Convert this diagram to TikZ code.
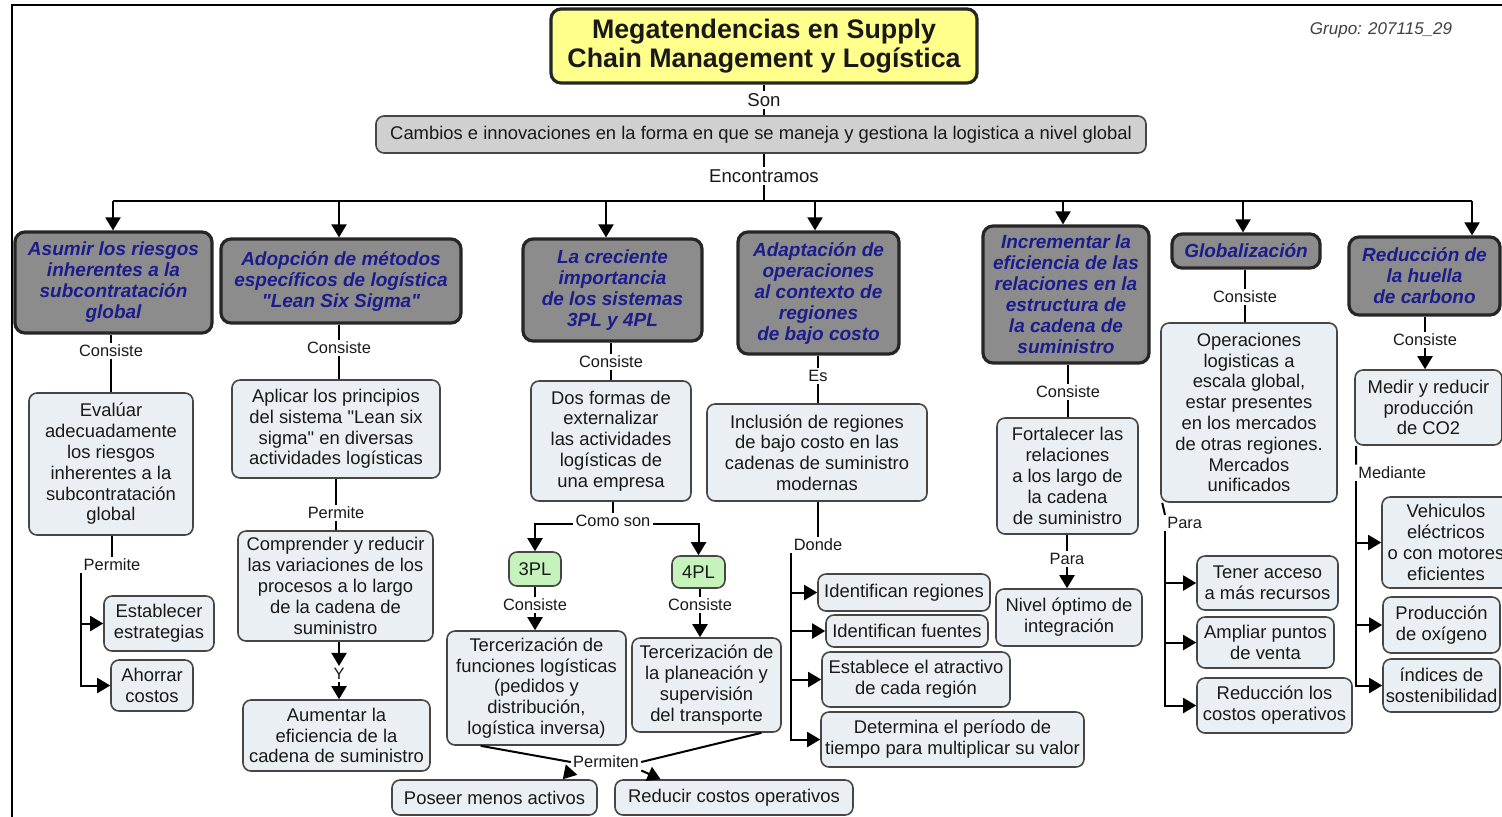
\documentclass[tikz,border=0pt]{standalone}
\usepackage{fontspec}
\setmainfont{Liberation Sans}[Ligatures=TeXOff]
\usetikzlibrary{arrows.meta,calc}

\definecolor{lightc}{RGB}{233,239,242}
\definecolor{headc}{RGB}{140,140,140}
\definecolor{titlec}{RGB}{255,255,140}
\definecolor{greyc}{RGB}{208,208,208}
\definecolor{greenc}{RGB}{198,242,188}
\definecolor{navyc}{RGB}{28,28,140}
\definecolor{inkc}{RGB}{25,25,25}
\definecolor{edgec}{RGB}{70,70,70}

\tikzset{
  sz/.style 2 args={minimum width=#1*0.5pt, minimum height=#2*0.5pt},
  concept/.style={draw=edgec, line width=0.8pt, fill=lightc, rounded corners=4pt,
    inner sep=0pt, align=center, text=inkc, font=\fontsize{9.2}{10.4}\selectfont},
  headbox/.style={draw=black!85, line width=1.6pt, fill=headc, rounded corners=5pt,
    inner sep=0pt, align=center, text=navyc,
    font=\fontsize{9.5}{10.5}\selectfont\bfseries\itshape},
  lbl/.style={inner sep=1pt, text=inkc, font=\fontsize{8.2}{9}\selectfont},
  toplbl/.style={lbl, font=\fontsize{9.3}{11}\selectfont},
  conn/.style={line width=1pt, draw=black},
  arr/.style={conn, -{Triangle[width=7.5pt,length=6.5pt]}},
}

\begin{document}
\begin{tikzpicture}[x=0.5pt,y=-0.5pt]
\useasboundingbox (0,0) rectangle (1502,816);
\fill[white] (0,0) rectangle (1502,816);

% outer frame
\draw[line width=1.2pt] (12,820) -- (12,5) -- (1510,5);

% title and root
\node[concept, sz={426}{74}, fill=titlec, draw=black!85, line width=1.6pt,
  rounded corners=5pt, font=\fontsize{13.4}{14.6}\selectfont\bfseries]
  (title) at (764,46) {Megatendencias en Supply\\Chain Management y Logística};
\node[lbl, font=\fontsize{8.5}{10}\selectfont\itshape, text=black!75]
  (grupo) at (1381,30) {Grupo: 207115\_29};
\node[toplbl] (son) at (764,100) {Son};
\node[concept, sz={770}{37}, fill=greyc] (cambios) at (761,134.5)
  {Cambios e innovaciones en la forma en que se maneja y gestiona la logistica a nivel global};
\node[toplbl] (encon) at (764,176) {Encontramos};
\draw[conn] (title.south -| son) -- (son) -- (son |- cambios.north);
\draw[conn] (cambios.south -| encon) -- (encon);

% distribution bar
\coordinate (hub) at (764,201);
\coordinate (b1) at (113,201);
\coordinate (b2) at (339,201);
\coordinate (b3) at (606,201);
\coordinate (b4) at (815,201);
\coordinate (b5) at (1063,201);
\coordinate (b6) at (1243,201);
\coordinate (b7) at (1472,201);
\draw[conn] (encon) -- (hub);
\draw[conn] (b1) -- (b7);

% main trends
\node[headbox, sz={197}{101}] (h1) at (113.5,282.5) {Asumir los riesgos\\inherentes a la\\subcontratación\\global};
\node[headbox, sz={240}{84}] (h2) at (341,281) {Adopción de métodos\\específicos de logística\\"Lean Six Sigma"};
\node[headbox, sz={179}{102}] (h3) at (612.5,290) {La creciente\\importancia\\de los sistemas\\3PL y 4PL};
\node[headbox, sz={161}{122}] (h4) at (818.5,293) {Adaptación de\\operaciones\\al contexto de\\regiones\\de bajo costo};
\node[headbox, sz={166}{137}] (h5) at (1066,294.5) {Incrementar la\\eficiencia de las\\relaciones en la\\estructura de\\la cadena de\\suministro};
\node[headbox, sz={148}{34}] (h6) at (1246,251) {Globalización};
\node[headbox, sz={151}{78}] (h7) at (1424.5,276) {Reducción de\\la huella\\de carbono};
\foreach \i in {1,...,7} \draw[arr] (b\i) -- (b\i |- h\i.north);

% column 1
\node[lbl] (c1) at (111,351) {Consiste};
\node[concept, sz={164}{142}] (eval) at (111,464) {Evalúar\\adecuadamente\\los riesgos\\inherentes a la\\subcontratación\\global};
\draw[conn] (h1.south -| c1) -- (c1) -- (c1 |- eval.north);
\node[lbl] (p1) at (112,565) {Permite};
\draw[conn] (eval.south -| p1) -- (p1);
\node[concept, sz={110}{55}] (estab) at (159,623.5) {Establecer\\estrategias};
\node[concept, sz={82}{51}] (ahorrar) at (152,685.5) {Ahorrar\\costos};
\draw[arr] (p1.south west) |- (ahorrar.west);
\draw[arr] (p1.south west |- estab.west) -- (estab.west);

% column 2
\node[lbl] (c2) at (339,348) {Consiste};
\node[concept, sz={208}{98}] (aplicar) at (336,429) {Aplicar los principios\\del sistema "Lean six\\sigma" en diversas\\actividades logísticas};
\draw[conn] (h2.south -| c2) -- (c2) -- (c2 |- aplicar.north);
\node[lbl] (p2) at (336,513) {Permite};
\node[concept, sz={195}{110}] (comp) at (335.5,586) {Comprender y reducir\\las variaciones de los\\procesos a lo largo\\de la cadena de\\suministro};
\draw[conn] (aplicar.south -| p2) -- (p2) -- (p2 |- comp.north);
\node[lbl] (y2) at (339,674) {Y};
\node[concept, sz={187}{71}] (aum) at (336.5,735.5) {Aumentar la\\eficiencia de la\\cadena de suministro};
\draw[arr] (comp.south -| y2) -- (y2);
\draw[arr] (y2) -- (y2 |- aum.north);

% column 3
\node[lbl] (c3) at (611,362) {Consiste};
\node[concept, sz={160}{120}] (dos) at (611,441) {Dos formas de\\externalizar\\las actividades\\logísticas de\\una empresa};
\draw[conn] (h3.south -| c3) -- (c3) -- (c3 |- dos.north);
\node[lbl] (como) at (613,521) {Como son};
\draw[conn] (dos.south -| como) -- (como);
\node[concept, fill=greenc, sz={52}{34}] (pl3) at (535,569) {3PL};
\node[concept, fill=greenc, sz={53}{32}] (pl4) at (698.5,572) {4PL};
\draw[arr] ([yshift=-1.5pt]como.west) -| (pl3.north);
\draw[arr] ([yshift=-1.5pt]como.east) -| (pl4.north);
\node[lbl] (c3a) at (535,605) {Consiste};
\node[lbl] (c3b) at (700,605) {Consiste};
\node[concept, sz={179}{114}] (t3) at (536.5,688) {Tercerización de\\funciones logísticas\\(pedidos y\\distribución,\\logística inversa)};
\node[concept, sz={149}{94}] (t4) at (706.5,685) {Tercerización de\\la planeación y\\supervisión\\del transporte};
\draw[conn] (pl3.south -| c3a) -- (c3a);
\draw[arr] (c3a) -- (c3a |- t3.north);
\draw[conn] (pl4.south -| c3b) -- (c3b);
\draw[arr] (c3b) -- (c3b |- t4.north);
\node[lbl] (perm) at (606,762) {Permiten};
\draw[conn] (t3.-134) -- (perm.west);
\draw[conn] (t4.-41) -- (perm.east);
\node[concept, sz={205}{35}] (poseer) at (494.5,797.5) {Poseer menos activos};
\node[concept, sz={238}{35}] (reducir) at (734,797.5) {Reducir costos operativos};
\draw[arr] (perm.south west) -- (poseer.15);
\draw[arr] (perm.south east) -- (reducir.166);

% column 4
\node[lbl] (es) at (818,376) {Es};
\node[concept, sz={220}{97}] (incl) at (817,452.5) {Inclusión de regiones\\de bajo costo en las\\cadenas de suministro\\modernas};
\draw[conn] (h4.south -| es) -- (es) -- (es |- incl.north);
\node[lbl] (donde) at (818,545) {Donde};
\draw[conn] (incl.south -| donde) -- (donde);
\node[concept, sz={172}{37}] (idreg) at (904,592.5) {Identifican regiones};
\node[concept, sz={162}{32}] (idfue) at (907,631) {Identifican fuentes};
\node[concept, sz={188}{55}] (atrac) at (916,679.5) {Establece el atractivo\\de cada región};
\node[concept, sz={263}{55}] (deter) at (952.5,739.5) {Determina el período de\\tiempo para multiplicar su valor};
\draw[arr] (donde.south west) |- (deter.west);
\foreach \n in {idreg,idfue,atrac} \draw[arr] (donde.south west |- \n.west) -- (\n.west);

% column 5
\node[lbl] (c5) at (1068,392) {Consiste};
\node[concept, sz={141}{116}] (fort) at (1067.5,476) {Fortalecer las\\relaciones\\a los largo de\\la cadena\\de suministro};
\draw[conn] (h5.south -| c5) -- (c5) -- (c5 |- fort.north);
\node[lbl] (para5) at (1067,559) {Para};
\node[concept, sz={146}{57}] (nivel) at (1069,617.5) {Nivel óptimo de\\integración};
\draw[conn] (fort.south -| para5) -- (para5);
\draw[arr] (para5) -- (para5 |- nivel.north);

% column 6
\node[lbl] (c6) at (1245,297) {Consiste};
\node[concept, sz={176}{179}] (oper) at (1249,412.5) {Operaciones\\logisticas a\\escala global,\\estar presentes\\en los mercados\\de otras regiones.\\Mercados\\unificados};
\draw[conn] (h6.south -| c6) -- (c6) -- (c6 |- oper.north);
\node[lbl, anchor=west] (para6) at (1165,523) {Para};
\draw[conn] ([xshift=1pt]oper.south west) -- (para6.north west);
\node[concept, sz={141}{54}] (tener) at (1267.5,583) {Tener acceso\\a más recursos};
\node[concept, sz={137}{51}] (ampl) at (1265.5,642.5) {Ampliar puntos\\de venta};
\node[concept, sz={155}{55}] (redu) at (1274.5,705.5) {Reducción los\\costos operativos};
\draw[arr] (para6.south west) |- (redu.west);
\foreach \n in {tener,ampl} \draw[arr] (para6.south west |- \n.west) -- (\n.west);

% column 7
\node[lbl] (c7) at (1425,340) {Consiste};
\node[concept, sz={147}{75}] (medir) at (1428.5,407.5) {Medir y reducir\\producción\\de CO2};
\draw[conn] (h7.south -| c7) -- (c7);
\draw[arr] (c7) -- (c7 |- medir.north);
\node[lbl, anchor=west] (medi) at (1356,473) {Mediante};
\draw[conn] ([xshift=1pt]medir.south west) -- (medi.north west);
\node[concept, sz={128}{91}] (veh) at (1446,542.5) {Vehiculos\\eléctricos\\o con motores\\eficientes};
\node[concept, sz={117}{56}] (prod) at (1441.5,625) {Producción\\de oxígeno};
\node[concept, sz={117}{53}] (indi) at (1441.5,685.5) {índices de\\sostenibilidad};
\draw[arr] (medi.south west) |- (indi.west);
\foreach \n in {veh,prod} \draw[arr] (medi.south west |- \n.west) -- (\n.west);
\end{tikzpicture}
\end{document}
